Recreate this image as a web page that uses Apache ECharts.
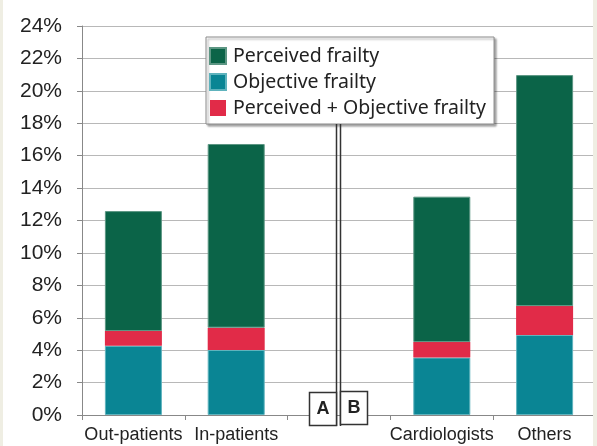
<!DOCTYPE html>
<html>
<head>
<meta charset="utf-8">
<script src="https://cdn.jsdelivr.net/npm/echarts@6/dist/echarts.min.js"></script>
<style>
html,body{margin:0;padding:0;background:#fff;}
#chart{width:597px;height:446px;}
</style>
</head>
<body>
<div id="chart"></div>
<script>
var categories = ['Out-patients', 'In-patients', '', 'Cardiologists', 'Others'];
var objectiveFrailty = [4.27, 4.01, null, 3.54, 4.94];
var bothFrailty = [0.91, 1.38, null, 0.96, 1.78];
var perceivedFrailty = [7.40, 11.33, null, 8.97, 14.25];
var yTicks = { min: 0, max: 24, interval: 2 };
var seriesNames = ['Perceived frailty', 'Objective frailty', 'Perceived + Objective frailty'];

var chart = echarts.init(document.getElementById('chart'), null, {renderer: 'canvas'});
var option = {
  animation: false,
  backgroundColor: '#ffffff',
  grid: { left: 82, right: 1, top: 26, bottom: 31, containLabel: false },
  legend: {
    orient: 'vertical',
    left: 206, top: 37,
    padding: [9, 8, 6, 3],
    itemWidth: 16, itemHeight: 16, itemGap: 6,
    icon: 'rect',
    data: seriesNames,
    backgroundColor: '#ffffff',
    borderColor: '#8a8a8a', borderWidth: 1,
    shadowColor: 'rgba(0,0,0,0.35)', shadowBlur: 2, shadowOffsetX: 2, shadowOffsetY: 2,
    textStyle: { fontFamily: 'Noto Sans', fontSize: 19.5, color: '#222', padding: [0,0,0,2] },
    z: 10
  },
  xAxis: {
    type: 'category',
    data: categories,
    axisLine: { lineStyle: { color: '#888', width: 1 } },
    axisTick: { show: true, length: 5, lineStyle: { color: '#888' } },
    axisLabel: { fontFamily: 'Liberation Sans', fontSize: 18, color: '#222', margin: 11, interval: 0 }
  },
  yAxis: {
    type: 'value',
    min: yTicks.min, max: yTicks.max, interval: yTicks.interval,
    axisLine: { show: true, lineStyle: { color: '#888', width: 1 } },
    axisTick: { show: true, length: 5, lineStyle: { color: '#888' } },
    splitLine: { lineStyle: { color: '#b8b8b8', width: 1 } },
    axisLabel: { formatter: '{value}%', fontFamily: 'Liberation Sans', fontSize: 21, color: '#222', margin: 20 }
  },
  series: [
    { name: seriesNames[1], type: 'bar', stack: 'f', data: objectiveFrailty, barWidth: 57,
      itemStyle: { color: '#0a8594', borderColor: '#5fb3bd', borderWidth: 1 } },
    { name: seriesNames[2], type: 'bar', stack: 'f', data: bothFrailty, barWidth: 57,
      itemStyle: { color: '#e12b48', borderColor: '#e12b48', borderWidth: 0 } },
    { name: seriesNames[0], type: 'bar', stack: 'f', data: perceivedFrailty, barWidth: 57,
      itemStyle: { color: '#0b6448', borderColor: '#5c9683', borderWidth: 1 } }
  ],
  graphic: [
    { type: 'rect', shape: { x: 0, y: 0, width: 3, height: 446 }, style: { fill: '#efeee3' }, z: 100 },
    { type: 'rect', shape: { x: 593, y: 0, width: 4, height: 446 }, style: { fill: '#efeee3' }, z: 100 },
    { type: 'line', shape: { x1: 336.5, y1: 124, x2: 336.5, y2: 426 }, style: { stroke: '#333', lineWidth: 1.5 }, z: 50 },
    { type: 'line', shape: { x1: 340.5, y1: 124, x2: 340.5, y2: 426 }, style: { stroke: '#333', lineWidth: 1.5 }, z: 50 },
    { type: 'rect', shape: { x: 309.5, y: 392.5, width: 27, height: 33 }, style: { fill: '#fff', stroke: '#333', lineWidth: 1.5 }, z: 51 },
    { type: 'rect', shape: { x: 340.5, y: 391.5, width: 27, height: 33 }, style: { fill: '#fff', stroke: '#333', lineWidth: 1.5 }, z: 51 },
    { type: 'text', x: 323, y: 409, style: { text: 'A', fontFamily: 'Liberation Sans', fontWeight: 'bold', fontSize: 18, fill: '#222', align: 'center', verticalAlign: 'middle' }, z: 52 },
    { type: 'text', x: 354, y: 408, style: { text: 'B', fontFamily: 'Liberation Sans', fontWeight: 'bold', fontSize: 18, fill: '#222', align: 'center', verticalAlign: 'middle' }, z: 52 }
  ]
};
chart.setOption(option);
</script>
</body>
</html>
